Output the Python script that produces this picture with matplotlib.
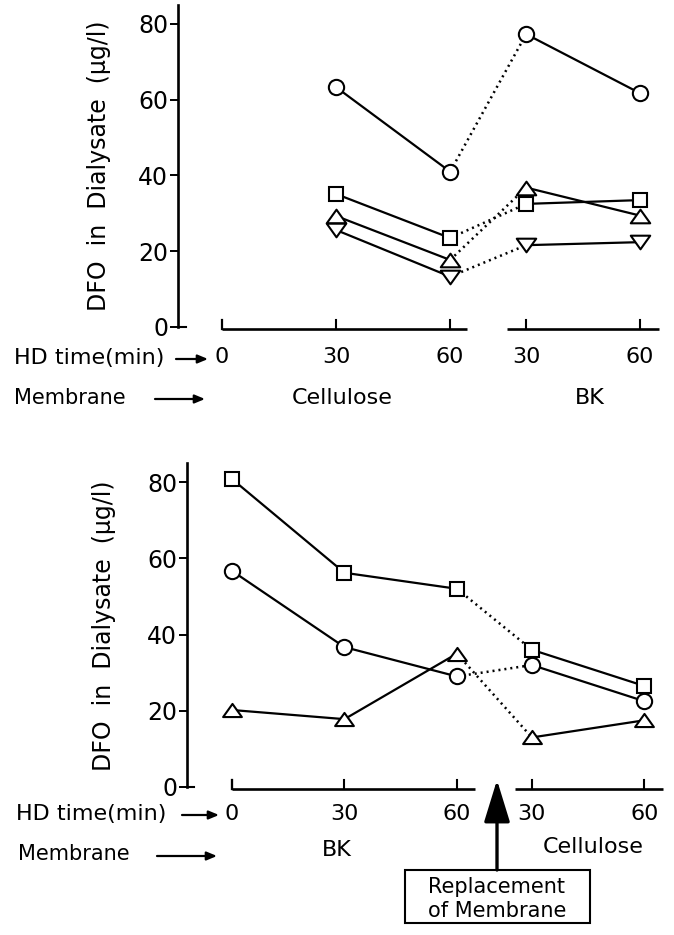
"""
Two-panel DFO in dialysate chart (scanned figure style).
"""

import matplotlib.pyplot as plt
from matplotlib.path import Path
from matplotlib.patches import Rectangle

W, H = 674, 935

# --- data: top panel (Cellulose -> BK) ---
top_times = ["30", "60", "30", "60"]
top_circle = [63.3, 41, 77.3, 61.7]
top_square = [35.1, 23.5, 32.5, 33.5]
top_tri_up = [29.3, 17.7, 36.8, 29.4]
top_tri_down = [25.6, 13.3, 21.6, 22.4]

# --- data: bottom panel (BK -> Cellulose) ---
bot_times = ["0", "30", "60", "30", "60"]
bot_square = [80.8, 56.2, 52, 36, 26.5]
bot_circle = [56.7, 36.7, 29, 32, 22.5]
bot_triangle = [20.2, 17.8, 35, 13, 17.5]

yticks = [0, 20, 40, 60, 80]
ylabel = "DFO  in  Dialysate  (\u03bcg/l)"

FS = 16

# wide, flat triangles like the hand-drawn ones
TRI_UP = Path([(-1, -0.7), (1, -0.7), (0, 0.7), (-1, -0.7)],
              [Path.MOVETO, Path.LINETO, Path.LINETO, Path.CLOSEPOLY])
TRI_DOWN = Path([(-1, 0.7), (1, 0.7), (0, -0.7), (-1, 0.7)],
                [Path.MOVETO, Path.LINETO, Path.LINETO, Path.CLOSEPOLY])


def fx(px):
    return px / W


def fy(py):
    return 1 - py / H


def to_x(times, offset):
    # minutes -> x position; the second membrane is shifted by offset
    n = len(times)
    return [int(t) + (offset if i >= n - 2 else 0) for i, t in enumerate(times)]


def draw_series(ax, xs, ys, marker, ms):
    n = len(xs)
    # solid within a membrane, dotted across the replacement
    ax.plot(xs[:n - 1], ys[:n - 1], "-", color="black", lw=1.6, zorder=2)
    ax.plot(xs[n - 2:], ys[n - 2:], "-", color="black", lw=1.6, zorder=2)
    ax.plot(xs[n - 3:n - 1], ys[n - 3:n - 1], color="white", lw=2.6, zorder=2.1)
    ax.plot(xs[n - 3:n - 1], ys[n - 3:n - 1], color="black", lw=1.8,
            linestyle=(0, (0.8, 1.6)), zorder=2.2)
    ax.plot(xs, ys, linestyle="none", marker=marker, ms=ms, mfc="white",
            mec="black", mew=1.5, zorder=3)


def baseline(ax, x0, x1, ticks, y=-0.4, h=2.2, left_stub=False):
    ax.plot([x0, x1], [y, y], color="black", lw=1.9, clip_on=False,
            solid_capstyle="butt")
    for t in ticks:
        ax.plot([t, t], [y, y + h], color="black", lw=1.5, clip_on=False)
    if left_stub:
        ax.plot([x0, x0], [y, y + h], color="black", lw=1.6, clip_on=False)


def style_axis(ax, ylim):
    ax.set_ylim(0, ylim)
    ax.set_yticks(yticks)
    ax.set_yticklabels([str(t) for t in yticks], fontsize=FS + 1)
    ax.tick_params(axis="y", direction="out", length=6, width=1.4, pad=1)
    ax.set_xticks([])
    for s in ["top", "right", "bottom"]:
        ax.spines[s].set_visible(False)
    ax.spines["left"].set_linewidth(1.9)
    # small stub at the foot of the y axis
    x0 = ax.get_xlim()[0]
    ax.plot([x0, x0 + 2], [0, 0], color="black", lw=1.5, clip_on=False)


def fig_arrow(fig, x0, x1, y, scale=10):
    fig.add_artist(plt.Annotation(
        "", xy=(fx(x1), fy(y)), xytext=(fx(x0), fy(y)), xycoords="figure fraction",
        arrowprops=dict(arrowstyle="-|>,head_length=0.6,head_width=0.25",
                        color="black", lw=1.6, mutation_scale=scale,
                        shrinkA=0, shrinkB=0)))


fig = plt.figure(figsize=(W / 100, H / 100), dpi=100)

# ---------------- top panel ----------------
ax1 = fig.add_axes([fx(178), fy(327), fx(674) - fx(178), fy(5) - fy(327)])
ax1.set_xlim(-11.6, 118.9)
style_axis(ax1, 85)
xs_top = to_x(top_times, 50)
draw_series(ax1, xs_top, top_circle, "o", 11)
draw_series(ax1, xs_top, top_square, "s", 10)
draw_series(ax1, xs_top, top_tri_up, TRI_UP, 14)
draw_series(ax1, xs_top, top_tri_down, TRI_DOWN, 14)
baseline(ax1, 0, 64.5, xs_top[:2], left_stub=True)
baseline(ax1, 75, 115, xs_top[2:])
for x, lab in zip([0] + xs_top, ["0"] + top_times):
    ax1.text(x, -7.9, lab, ha="center", va="center", fontsize=FS, clip_on=False)
fig.text(fx(99), fy(166), ylabel, rotation=90, ha="center", va="center", fontsize=FS + 1)

fig.text(fx(14), fy(358), "HD time(min)", ha="left", va="center", fontsize=FS)
fig_arrow(fig, 176, 208, 359)
fig.text(fx(14), fy(398), "Membrane", ha="left", va="center", fontsize=FS - 1)
fig_arrow(fig, 155, 205, 399)
fig.text(fx(342), fy(398), "Cellulose", ha="center", va="center", fontsize=FS)
fig.text(fx(590), fy(398), "BK", ha="center", va="center", fontsize=FS)

# ---------------- bottom panel ----------------
ax2 = fig.add_axes([fx(187), fy(787), fx(674) - fx(187), fy(463) - fy(787)])
ax2.set_xlim(-12, 117.9)
style_axis(ax2, 85)
xs_bot = to_x(bot_times, 50)
draw_series(ax2, xs_bot, bot_square, "s", 10)
draw_series(ax2, xs_bot, bot_circle, "o", 11)
draw_series(ax2, xs_bot, bot_triangle, TRI_UP, 13.5)
baseline(ax2, 0, 64.8, xs_bot[:3], left_stub=True)
baseline(ax2, 75.5, 115, xs_bot[3:])
for x, lab in zip(xs_bot, bot_times):
    ax2.text(x, -7.1, lab, ha="center", va="center", fontsize=FS, clip_on=False)
fig.text(fx(104), fy(626), ylabel, rotation=90, ha="center", va="center", fontsize=FS + 1)

fig.text(fx(16), fy(814), "HD time(min)", ha="left", va="center", fontsize=FS)
fig_arrow(fig, 182, 219, 815)
fig.text(fx(18), fy(854), "Membrane", ha="left", va="center", fontsize=FS - 1)
fig_arrow(fig, 157, 217, 856)
fig.text(fx(337), fy(850), "BK", ha="center", va="center", fontsize=FS)
fig.text(fx(593), fy(847), "Cellulose", ha="center", va="center", fontsize=FS)

# replacement of membrane box + arrow
fig.add_artist(Rectangle((fx(405), fy(923)), fx(590) - fx(405), fy(870) - fy(923),
                         transform=fig.transFigure, fc="white", ec="black", lw=1.5))
fig.text(fx(497), fy(887), "Replacement", ha="center", va="center", fontsize=FS - 1)
fig.text(fx(497), fy(911), "of Membrane", ha="center", va="center", fontsize=FS - 1)
fig.add_artist(plt.Annotation(
    "", xy=(fx(497), fy(780)), xytext=(fx(497), fy(870)), xycoords="figure fraction",
    arrowprops=dict(arrowstyle="-|>,head_length=1.3,head_width=0.4", color="black",
                    lw=2.4, mutation_scale=20, shrinkA=0, shrinkB=0)))

fig.savefig("out.png", dpi=100)
